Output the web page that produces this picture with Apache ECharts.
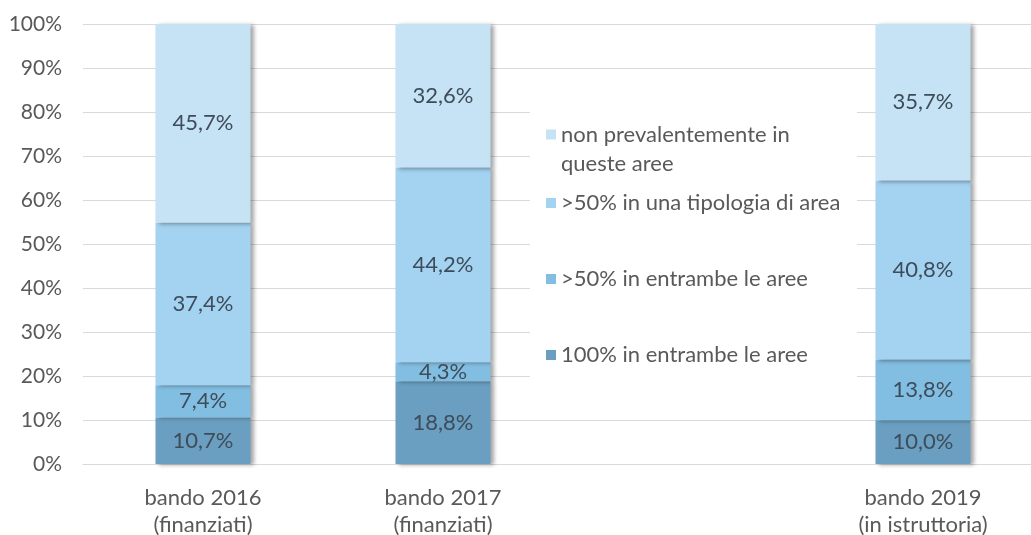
<!DOCTYPE html>
<html>
<head>
<meta charset="utf-8">
<script src="https://cdn.jsdelivr.net/npm/echarts@6/dist/echarts.min.js"></script>
<style>
  html, body { margin: 0; padding: 0; background: #fff; }
  #chart { width: 1031px; height: 535px; }
</style>
</head>
<body>
<div id="chart"></div>
<script>
// categorie (la terza è vuota: lì sta la legenda)
const categories = ['bando 2016\n(finanziati)', 'bando 2017\n(finanziati)', '', 'bando 2019\n(in istruttoria)']
const yTicks = [0, 10, 20, 30, 40, 50, 60, 70, 80, 90, 100]

const seriesNames = [
  '100% in entrambe le aree',
  '>50% in entrambe le aree',
  '>50% in una tipologia di area',
  'non prevalentemente in\nqueste aree'
]
// valori (%), null per la categoria vuota
const tutte100 = [10.7, 18.8, null, 10.0]
const entrambe50 = [7.4, 4.3, null, 13.8]
const unaTipologia = [37.4, 44.2, null, 40.8]
const nonPrevalenti = [45.7, 32.6, null, 35.7]

const colors = ['#6a9fc1', '#82bee1', '#a3d3f1', '#c6e2f5']

const raw = [tutte100, entrambe50, unaTipologia, nonPrevalenti]
// grafico in pila al 100%: normalizzo ogni colonna
const totals = categories.map((c, i) => raw.reduce((s, arr) => s + (arr[i] || 0), 0))

const fmt = (v) => v.toFixed(1).replace('.', ',') + '%'

const chart = echarts.init(document.getElementById('chart'))
chart.setOption({
  animation: false,
  textStyle: { fontFamily: 'Lato' },
  grid: { left: 83, right: -12, top: 24, bottom: 71, outerBoundsMode: 'none', containLabel: false },
  graphic: [{
    type: 'rect',
    z: 1,
    left: 530,
    top: 78,
    shape: { width: 327, height: 334 },
    style: { fill: '#fff' }
  }],
  legend: [{
    data: [seriesNames[3]],
    orient: 'vertical',
    left: 546,
    top: 91,
    padding: 0,
    itemWidth: 10,
    itemHeight: 10,
    itemGap: 0,
    icon: 'rect',
    selectedMode: false,
    // riga vuota in testa: così il quadratino sta sulla prima riga
    formatter: (name) => '\n' + name,
    textStyle: { fontSize: 22, color: '#595959', lineHeight: 29 }
  }, {
    data: [seriesNames[2], seriesNames[1], seriesNames[0]],
    orient: 'vertical',
    left: 546,
    top: 189,
    padding: 0,
    itemWidth: 10,
    itemHeight: 10,
    itemGap: 48,
    icon: 'rect',
    selectedMode: false,
    textStyle: { fontSize: 22, color: '#595959', lineHeight: 28 }
  }],
  xAxis: {
    type: 'category',
    data: categories,
    axisLine: { lineStyle: { color: '#d9d9d9' } },
    axisTick: { show: false },
    axisLabel: { fontSize: 22, color: '#595959', lineHeight: 27, margin: 20 }
  },
  yAxis: {
    type: 'value',
    min: yTicks[0],
    max: yTicks[yTicks.length - 1],
    interval: 10,
    axisLine: { show: false },
    axisTick: { show: false },
    splitLine: { lineStyle: { color: '#d9d9d9', width: 1 } },
    axisLabel: { fontSize: 21, color: '#595959', margin: 21, formatter: (v) => v + '%' }
  },
  series: raw.map((arr, k) => ({
    name: seriesNames[k],
    type: 'bar',
    stack: 'tot',
    barWidth: 95,
    itemStyle: {
      color: colors[k],
      shadowColor: 'rgba(0,0,0,0.35)',
      shadowBlur: 4,
      shadowOffsetX: 3,
      shadowOffsetY: 1
    },
    label: {
      show: true,
      position: 'inside',
      fontSize: 22,
      color: '#3e4c5a',
      formatter: (p) => fmt(arr[p.dataIndex])
    },
    data: arr.map((v, i) => (v == null ? null : v / totals[i] * 100))
  }))
})
</script>
</body>
</html>
